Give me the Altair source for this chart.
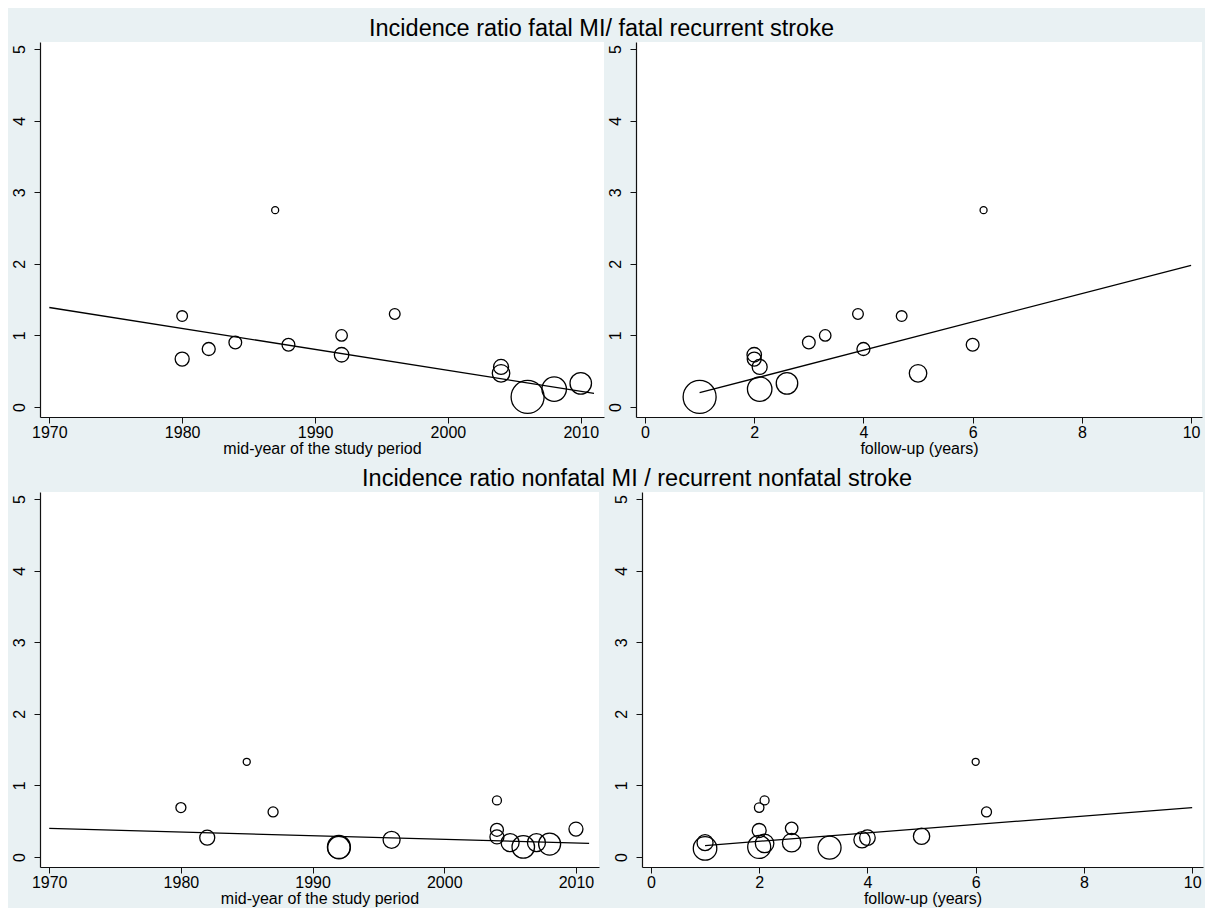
import altair as alt
import pandas as pd

# ---------------- data ----------------
# Top row: fatal MI / fatal recurrent stroke (same studies in both panels)
top_year = [1980, 1980, 1982, 1984, 1987, 1988, 1992, 1992, 1996, 2004, 2004, 2006, 2008, 2010]
top_followup = [4.7, 2.0, 4.0, 3.0, 6.2, 6.0, 3.3, 2.0, 3.9, 2.1, 5.0, 1.0, 2.1, 2.6]
top_ratio = [1.27, 0.67, 0.81, 0.90, 2.75, 0.87, 1.00, 0.73, 1.30, 0.56, 0.47, 0.14, 0.25, 0.33]
top_diam = [10.7, 14.0, 13.0, 12.7, 7.0, 12.8, 11.5, 14.5, 10.7, 15.0, 17.5, 33.0, 24.5, 21.5]

# Bottom-left: nonfatal, by mid-year
bl_year = [1980, 1982, 1985, 1987, 1992, 1992, 1996, 2004, 2004, 2004, 2005, 2006, 2007, 2008, 2010]
bl_ratio = [0.69, 0.27, 1.33, 0.63, 0.13, 0.14, 0.24, 0.79, 0.38, 0.28, 0.20, 0.14, 0.20, 0.18, 0.39]
bl_diam = [10.0, 15.0, 7.0, 10.0, 22.5, 23.0, 17.0, 9.0, 13.0, 14.0, 18.0, 22.5, 18.0, 22.0, 14.0]

# Bottom-right: nonfatal, by follow-up
br_followup = [1.0, 1.0, 2.0, 2.1, 2.0, 2.0, 2.1, 2.6, 2.6, 3.3, 3.9, 4.0, 5.0, 6.0, 6.2]
br_ratio = [0.12, 0.20, 0.69, 0.79, 0.37, 0.14, 0.19, 0.40, 0.20, 0.13, 0.24, 0.27, 0.29, 1.33, 0.63]
br_diam = [23.5, 16.0, 9.5, 9.0, 14.0, 23.0, 18.5, 12.5, 18.5, 23.0, 16.3, 15.6, 16.3, 7.0, 10.0]

# Fitted (weighted) regression lines: end points
tl_fit_x, tl_fit_y = [1970, 2011], [1.39, 0.19]
tr_fit_x, tr_fit_y = [1.0, 10.0], [0.20, 1.98]
bl_fit_x, bl_fit_y = [1970, 2011], [0.40, 0.19]
br_fit_x, br_fit_y = [1.0, 10.0], [0.16, 0.69]

year_ticks = [1970, 1980, 1990, 2000, 2010]
fu_ticks = [0, 2, 4, 6, 8, 10]
y_ticks = [0, 1, 2, 3, 4, 5]

title_top = "Incidence ratio fatal MI/ fatal recurrent stroke"
title_bottom = "Incidence ratio nonfatal MI / recurrent nonfatal stroke"
xtitle_year = "mid-year of the study period"
xtitle_fu = "follow-up (years)"

# ---------------- styling ----------------
FONT = "Liberation Sans"
BG = "#E9F1F3"
YEAR_DOMAIN = [1969.3, 2011.75]
FU_DOMAIN = [-0.165, 10.2]
Y_DOMAIN = [-0.14, 5.1]
PANEL_H = 375


def panel(xs, ys, ds, fx, fy, xdomain, xticks, xtitle, width):
    pts = pd.DataFrame({"x": xs, "y": ys, "area": [d * d for d in ds]})
    fit = pd.DataFrame({"x": fx, "y": fy})
    xsc = alt.Scale(domain=xdomain, nice=False, zero=False)
    ysc = alt.Scale(domain=Y_DOMAIN, nice=False, zero=False)
    xaxis = alt.Axis(values=xticks, title=xtitle, format="d", grid=False)
    yaxis = alt.Axis(values=y_ticks, title=None, labelAngle=270, grid=False)
    p = alt.Chart(pts).mark_point(
        shape="circle", filled=False, color="black", strokeWidth=1.3, opacity=1
    ).encode(
        x=alt.X("x:Q", scale=xsc, axis=xaxis),
        y=alt.Y("y:Q", scale=ysc, axis=yaxis),
        size=alt.Size("area:Q", scale=None, legend=None),
    )
    l = alt.Chart(fit).mark_line(color="black", strokeWidth=1.3).encode(
        x=alt.X("x:Q", scale=xsc, axis=xaxis),
        y=alt.Y("y:Q", scale=ysc, axis=yaxis),
    )
    return alt.layer(p, l).properties(width=width, height=PANEL_H)


tl = panel(top_year, top_ratio, top_diam, tl_fit_x, tl_fit_y, YEAR_DOMAIN, year_ticks, xtitle_year, 564)
tr = panel(top_followup, top_ratio, top_diam, tr_fit_x, tr_fit_y, FU_DOMAIN, fu_ticks, xtitle_fu, 566)
bl = panel(bl_year, bl_ratio, bl_diam, bl_fit_x, bl_fit_y, YEAR_DOMAIN, year_ticks, xtitle_year, 559)
br = panel(br_followup, br_ratio, br_diam, br_fit_x, br_fit_y, FU_DOMAIN, fu_ticks, xtitle_fu, 561)

row1 = alt.hconcat(tl, tr, spacing=3).properties(
    title=alt.TitleParams(title_top, anchor="middle", offset=1.5, dx=-5)
)
row2 = alt.hconcat(bl, br, spacing=14).properties(
    title=alt.TitleParams(title_bottom, anchor="middle", offset=1.5, dx=30)
)

chart = (
    alt.vconcat(row1, row2, spacing=11)
    .configure(background=BG, padding={"left": 3, "top": 9, "right": 2, "bottom": 2})
    .configure_view(fill="white", stroke=None)
    .configure_axis(
        domainColor="#111111",
        domainWidth=1.2,
        tickColor="#111111",
        tickSize=6,
        tickWidth=1,
        labelFont=FONT,
        labelFontSize=16,
        labelColor="black",
        titleFont=FONT,
        titleFontSize=16,
        titleFontWeight="normal",
        titleColor="black",
        titlePadding=0,
    )
    .configure_axisX(labelPadding=1)
    .configure_axisY(labelPadding=7)
    .configure_title(font=FONT, fontSize=23.5, fontWeight="normal", color="black")
)

chart.save("out.html", embed_options={"renderer": "svg", "actions": False})
